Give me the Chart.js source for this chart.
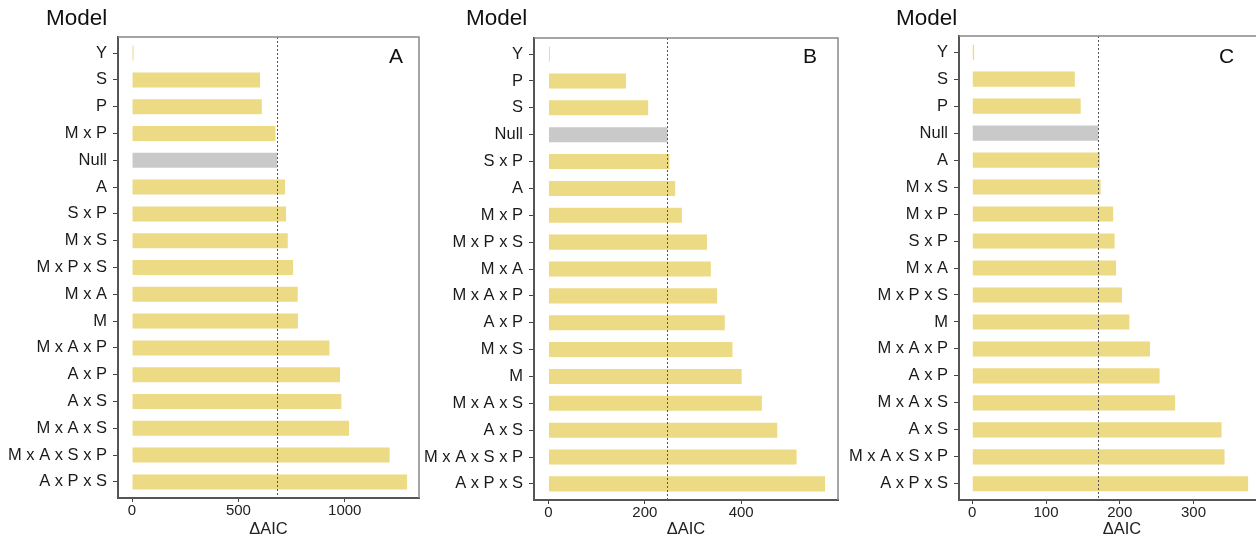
<!DOCTYPE html>
<html>
<head>
<meta charset="utf-8">
<script src="https://cdn.jsdelivr.net/npm/chart.js@4.4.1/dist/chart.umd.min.js"></script>
<style>
    html, body { margin: 0; padding: 0; background: #fff; overflow: hidden; }
    #wrap { position: relative; width: 1256px; height: 537px; overflow: hidden; font-family: 'Liberation Sans', Arial, sans-serif; }
    .panel { position: absolute; top: 0; }
    .model { position: absolute; top: 5px; font-size: 22.5px; color: #111; }
    .letter { position: absolute; top: 44px; font-size: 21px; color: #111; }
</style>
</head>
<body>
<div id="wrap">
    <canvas id="chart-a" class="panel" width="430" height="537" style="left:0px"></canvas>
    <canvas id="chart-b" class="panel" width="430" height="537" style="left:420px"></canvas>
    <canvas id="chart-c" class="panel" width="460" height="537" style="left:840px"></canvas>
    <div class="model" style="left:46px">Model</div>
    <div class="model" style="left:466px">Model</div>
    <div class="model" style="left:896px">Model</div>
    <div class="letter" style="left:389px">A</div>
    <div class="letter" style="left:803px">B</div>
    <div class="letter" style="left:1219px">C</div>
</div>
<script>
// Panel A
const modelsA = ['Y', 'S', 'P', 'M x P', 'Null', 'A', 'S x P', 'M x S', 'M x P x S', 'M x A', 'M',
    'M x A x P', 'A x P', 'A x S', 'M x A x S', 'M x A x S x P', 'A x P x S'];
const aicA = [7, 602, 610, 674, 682, 719, 724, 732, 757, 779, 780, 928, 978, 984, 1020, 1211, 1293];
const ticksA = [0, 500, 1000];

// Panel B
const modelsB = ['Y', 'P', 'S', 'Null', 'S x P', 'A', 'M x P', 'M x P x S', 'M x A', 'M x A x P', 'A x P',
    'M x S', 'M', 'M x A x S', 'A x S', 'M x A x S x P', 'A x P x S'];
const aicB = [3, 161, 207, 247, 251, 263, 277, 329, 337, 350, 366, 382, 401, 443, 475, 515, 574];
const ticksB = [0, 200, 400];

// Panel C
const modelsC = ['Y', 'S', 'P', 'Null', 'A', 'M x S', 'M x P', 'S x P', 'M x A', 'M x P x S', 'M',
    'M x A x P', 'A x P', 'M x A x S', 'A x S', 'M x A x S x P', 'A x P x S'];
const aicC = [2.5, 139, 147, 171, 173, 174, 191, 193, 195, 203, 213, 241, 254, 275, 338, 342, 374];
const ticksC = [0, 100, 200, 300];

const FONT = "'Liberation Sans', Arial, sans-serif";
const YELLOW = '#ecdb84';
const GREY = '#c9c9c9';

// top/right frame + dotted line at the Null model
const framePlugin = {
    id: 'frame',
    afterDatasetsDraw(chart) {
        const { ctx, chartArea } = chart;
        const xScale = chart.scales.x;
        const labels = chart.data.labels;
        const vals = chart.data.datasets[0].data;
        const nullVal = vals[labels.indexOf('Null')];
        const x = Math.round(xScale.getPixelForValue(nullVal)) + 0.5;
        ctx.save();
        ctx.strokeStyle = '#555';
        ctx.lineWidth = 1;
        ctx.setLineDash([2, 2]);
        ctx.beginPath();
        ctx.moveTo(x, chartArea.top);
        ctx.lineTo(x, chartArea.bottom);
        ctx.stroke();
        ctx.setLineDash([]);
        ctx.strokeStyle = '#888';
        ctx.lineWidth = 1.5;
        ctx.beginPath();
        ctx.moveTo(chartArea.left, chartArea.top);
        ctx.lineTo(chartArea.right, chartArea.top);
        ctx.lineTo(chartArea.right, chartArea.bottom);
        ctx.stroke();
        ctx.restore();
    }
};

function makePanel(id, labels, values, ticks, xMin, xMax, yWidth, xHeight, padding) {
    const ctx = document.getElementById(id).getContext('2d');
    return new Chart(ctx, {
        type: 'bar',
        data: {
            labels: labels,
            datasets: [{
                data: values,
                backgroundColor: labels.map(l => l === 'Null' ? GREY : YELLOW),
                borderWidth: 0,
                categoryPercentage: 1,
                barPercentage: 0.56
            }]
        },
        options: {
            indexAxis: 'y',
            responsive: false,
            animation: false,
            layout: { padding: padding },
            plugins: {
                legend: { display: false },
                tooltip: { enabled: false }
            },
            scales: {
                x: {
                    type: 'linear',
                    min: xMin,
                    max: xMax,
                    afterBuildTicks: (scale) => { scale.ticks = ticks.map(v => ({ value: v })); },
                    afterFit: (scale) => { scale.height = xHeight; },
                    border: { display: true, color: '#555', width: 2 },
                    grid: { drawOnChartArea: false, drawTicks: true, tickLength: 4, tickColor: '#444', tickWidth: 1 },
                    ticks: { color: '#222', padding: 0, font: { family: FONT, size: 15 }, callback: (v) => String(v) },
                    title: { display: true, text: 'ΔAIC', color: '#222', padding: { top: 0, bottom: -2 }, font: { family: FONT, size: 16.5 } }
                },
                y: {
                    type: 'category',
                    // discrete axis padded by 0.6 of a category at each end
                    afterBuildTicks: (scale) => {
                        scale._startValue = -0.6;
                        scale._valueRange = labels.length - 1 + 1.2;
                    },
                    afterFit: (scale) => { scale.width = yWidth; },
                    border: { display: true, color: '#555', width: 2 },
                    grid: { offset: false, drawOnChartArea: false, drawTicks: true, tickLength: 5, tickColor: '#444', tickWidth: 1 },
                    ticks: { color: '#1a1a1a', padding: 6, font: { family: FONT, size: 16.5 } }
                }
            }
        },
        plugins: [framePlugin]
    });
}

makePanel('chart-a', modelsA, aicA, ticksA, -66, 1349, 118, 39, { top: 37, right: 11, bottom: 0, left: 0 });
makePanel('chart-b', modelsB, aicB, ticksB, -30, 601, 114, 37, { top: 38, right: 12, bottom: 0, left: 0 });
makePanel('chart-c', modelsC, aicC, ticksC, -18, 424, 119, 37, { top: 36, right: 15, bottom: 0, left: 0 });
</script>
</body>
</html>
